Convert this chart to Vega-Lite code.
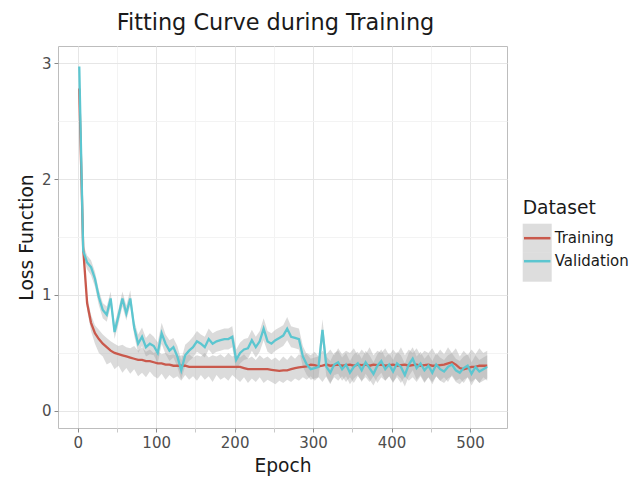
{
  "$schema": "https://vega.github.io/schema/vega-lite/v6.json",
  "width": 449,
  "height": 382,
  "autosize": {"type": "none"},
  "padding": {"left": 58, "top": 46, "right": 128, "bottom": 52},
  "background": "white",
  "title": {"text": "Fitting Curve during Training", "anchor": "middle", "frame": "group", "baseline": "alphabetic", "offset": -6, "dx": -7, "font": "DejaVu Sans", "fontSize": 22.4, "fontWeight": "normal", "color": "#1a1a1a"},
  "data": {"values": [
    {"epoch":2,"dataset":"Training","loss":2.78,"lower":2.74,"upper":2.82},
    {"epoch":7,"dataset":"Training","loss":1.40,"lower":1.34,"upper":1.46},
    {"epoch":12,"dataset":"Training","loss":0.93,"lower":0.87,"upper":0.99},
    {"epoch":17,"dataset":"Training","loss":0.76,"lower":0.69,"upper":0.83},
    {"epoch":22,"dataset":"Training","loss":0.67,"lower":0.58,"upper":0.74},
    {"epoch":27,"dataset":"Training","loss":0.62,"lower":0.50,"upper":0.70},
    {"epoch":32,"dataset":"Training","loss":0.58,"lower":0.47,"upper":0.66},
    {"epoch":37,"dataset":"Training","loss":0.55,"lower":0.40,"upper":0.63},
    {"epoch":42,"dataset":"Training","loss":0.52,"lower":0.42,"upper":0.60},
    {"epoch":47,"dataset":"Training","loss":0.50,"lower":0.36,"upper":0.58},
    {"epoch":52,"dataset":"Training","loss":0.49,"lower":0.39,"upper":0.56},
    {"epoch":57,"dataset":"Training","loss":0.48,"lower":0.33,"upper":0.57},
    {"epoch":62,"dataset":"Training","loss":0.47,"lower":0.37,"upper":0.55},
    {"epoch":67,"dataset":"Training","loss":0.46,"lower":0.32,"upper":0.54},
    {"epoch":72,"dataset":"Training","loss":0.45,"lower":0.36,"upper":0.56},
    {"epoch":77,"dataset":"Training","loss":0.44,"lower":0.30,"upper":0.52},
    {"epoch":82,"dataset":"Training","loss":0.44,"lower":0.33,"upper":0.55},
    {"epoch":87,"dataset":"Training","loss":0.43,"lower":0.29,"upper":0.51},
    {"epoch":92,"dataset":"Training","loss":0.43,"lower":0.34,"upper":0.53},
    {"epoch":97,"dataset":"Training","loss":0.42,"lower":0.30,"upper":0.50},
    {"epoch":102,"dataset":"Training","loss":0.41,"lower":0.28,"upper":0.52},
    {"epoch":107,"dataset":"Training","loss":0.41,"lower":0.32,"upper":0.49},
    {"epoch":112,"dataset":"Training","loss":0.40,"lower":0.27,"upper":0.50},
    {"epoch":117,"dataset":"Training","loss":0.40,"lower":0.31,"upper":0.48},
    {"epoch":122,"dataset":"Training","loss":0.39,"lower":0.28,"upper":0.49},
    {"epoch":127,"dataset":"Training","loss":0.39,"lower":0.30,"upper":0.47},
    {"epoch":132,"dataset":"Training","loss":0.39,"lower":0.26,"upper":0.48},
    {"epoch":137,"dataset":"Training","loss":0.39,"lower":0.31,"upper":0.47},
    {"epoch":142,"dataset":"Training","loss":0.38,"lower":0.27,"upper":0.49},
    {"epoch":147,"dataset":"Training","loss":0.38,"lower":0.30,"upper":0.46},
    {"epoch":152,"dataset":"Training","loss":0.38,"lower":0.26,"upper":0.48},
    {"epoch":157,"dataset":"Training","loss":0.38,"lower":0.31,"upper":0.47},
    {"epoch":162,"dataset":"Training","loss":0.38,"lower":0.27,"upper":0.50},
    {"epoch":167,"dataset":"Training","loss":0.38,"lower":0.30,"upper":0.46},
    {"epoch":172,"dataset":"Training","loss":0.38,"lower":0.25,"upper":0.48},
    {"epoch":177,"dataset":"Training","loss":0.38,"lower":0.31,"upper":0.47},
    {"epoch":182,"dataset":"Training","loss":0.38,"lower":0.27,"upper":0.49},
    {"epoch":187,"dataset":"Training","loss":0.38,"lower":0.29,"upper":0.46},
    {"epoch":192,"dataset":"Training","loss":0.38,"lower":0.26,"upper":0.50},
    {"epoch":197,"dataset":"Training","loss":0.38,"lower":0.31,"upper":0.47},
    {"epoch":202,"dataset":"Training","loss":0.38,"lower":0.28,"upper":0.48},
    {"epoch":207,"dataset":"Training","loss":0.38,"lower":0.25,"upper":0.46},
    {"epoch":212,"dataset":"Training","loss":0.37,"lower":0.29,"upper":0.49},
    {"epoch":217,"dataset":"Training","loss":0.36,"lower":0.24,"upper":0.45},
    {"epoch":222,"dataset":"Training","loss":0.36,"lower":0.28,"upper":0.47},
    {"epoch":227,"dataset":"Training","loss":0.36,"lower":0.25,"upper":0.44},
    {"epoch":232,"dataset":"Training","loss":0.36,"lower":0.29,"upper":0.48},
    {"epoch":237,"dataset":"Training","loss":0.36,"lower":0.24,"upper":0.45},
    {"epoch":242,"dataset":"Training","loss":0.36,"lower":0.27,"upper":0.47},
    {"epoch":247,"dataset":"Training","loss":0.355,"lower":0.25,"upper":0.44},
    {"epoch":252,"dataset":"Training","loss":0.35,"lower":0.23,"upper":0.46},
    {"epoch":257,"dataset":"Training","loss":0.345,"lower":0.26,"upper":0.43},
    {"epoch":262,"dataset":"Training","loss":0.35,"lower":0.24,"upper":0.47},
    {"epoch":267,"dataset":"Training","loss":0.35,"lower":0.27,"upper":0.44},
    {"epoch":272,"dataset":"Training","loss":0.36,"lower":0.25,"upper":0.48},
    {"epoch":277,"dataset":"Training","loss":0.37,"lower":0.28,"upper":0.45},
    {"epoch":282,"dataset":"Training","loss":0.375,"lower":0.26,"upper":0.49},
    {"epoch":287,"dataset":"Training","loss":0.38,"lower":0.29,"upper":0.47},
    {"epoch":292,"dataset":"Training","loss":0.385,"lower":0.27,"upper":0.50},
    {"epoch":297,"dataset":"Training","loss":0.40,"lower":0.30,"upper":0.48},
    {"epoch":302,"dataset":"Training","loss":0.395,"lower":0.26,"upper":0.51},
    {"epoch":307,"dataset":"Training","loss":0.385,"lower":0.29,"upper":0.47},
    {"epoch":312,"dataset":"Training","loss":0.39,"lower":0.25,"upper":0.52},
    {"epoch":317,"dataset":"Training","loss":0.40,"lower":0.30,"upper":0.49},
    {"epoch":322,"dataset":"Training","loss":0.39,"lower":0.24,"upper":0.53},
    {"epoch":327,"dataset":"Training","loss":0.395,"lower":0.29,"upper":0.48},
    {"epoch":332,"dataset":"Training","loss":0.40,"lower":0.26,"upper":0.54},
    {"epoch":337,"dataset":"Training","loss":0.39,"lower":0.30,"upper":0.49},
    {"epoch":342,"dataset":"Training","loss":0.395,"lower":0.25,"upper":0.52},
    {"epoch":347,"dataset":"Training","loss":0.40,"lower":0.29,"upper":0.50},
    {"epoch":352,"dataset":"Training","loss":0.39,"lower":0.24,"upper":0.54},
    {"epoch":357,"dataset":"Training","loss":0.40,"lower":0.30,"upper":0.48},
    {"epoch":362,"dataset":"Training","loss":0.395,"lower":0.26,"upper":0.53},
    {"epoch":367,"dataset":"Training","loss":0.40,"lower":0.29,"upper":0.49},
    {"epoch":372,"dataset":"Training","loss":0.39,"lower":0.25,"upper":0.55},
    {"epoch":377,"dataset":"Training","loss":0.40,"lower":0.30,"upper":0.48},
    {"epoch":382,"dataset":"Training","loss":0.395,"lower":0.24,"upper":0.52},
    {"epoch":387,"dataset":"Training","loss":0.40,"lower":0.29,"upper":0.50},
    {"epoch":392,"dataset":"Training","loss":0.39,"lower":0.26,"upper":0.54},
    {"epoch":397,"dataset":"Training","loss":0.395,"lower":0.30,"upper":0.48},
    {"epoch":402,"dataset":"Training","loss":0.40,"lower":0.25,"upper":0.53},
    {"epoch":407,"dataset":"Training","loss":0.39,"lower":0.29,"upper":0.49},
    {"epoch":412,"dataset":"Training","loss":0.395,"lower":0.24,"upper":0.55},
    {"epoch":417,"dataset":"Training","loss":0.40,"lower":0.30,"upper":0.48},
    {"epoch":422,"dataset":"Training","loss":0.39,"lower":0.26,"upper":0.53},
    {"epoch":427,"dataset":"Training","loss":0.395,"lower":0.29,"upper":0.50},
    {"epoch":432,"dataset":"Training","loss":0.40,"lower":0.25,"upper":0.54},
    {"epoch":437,"dataset":"Training","loss":0.39,"lower":0.30,"upper":0.48},
    {"epoch":442,"dataset":"Training","loss":0.395,"lower":0.24,"upper":0.52},
    {"epoch":447,"dataset":"Training","loss":0.40,"lower":0.29,"upper":0.50},
    {"epoch":452,"dataset":"Training","loss":0.39,"lower":0.25,"upper":0.54},
    {"epoch":457,"dataset":"Training","loss":0.39,"lower":0.30,"upper":0.48},
    {"epoch":462,"dataset":"Training","loss":0.395,"lower":0.26,"upper":0.53},
    {"epoch":467,"dataset":"Training","loss":0.40,"lower":0.29,"upper":0.49},
    {"epoch":472,"dataset":"Training","loss":0.41,"lower":0.25,"upper":0.55},
    {"epoch":477,"dataset":"Training","loss":0.42,"lower":0.31,"upper":0.50},
    {"epoch":482,"dataset":"Training","loss":0.40,"lower":0.26,"upper":0.54},
    {"epoch":487,"dataset":"Training","loss":0.37,"lower":0.28,"upper":0.47},
    {"epoch":492,"dataset":"Training","loss":0.36,"lower":0.24,"upper":0.52},
    {"epoch":497,"dataset":"Training","loss":0.37,"lower":0.29,"upper":0.48},
    {"epoch":502,"dataset":"Training","loss":0.38,"lower":0.25,"upper":0.53},
    {"epoch":507,"dataset":"Training","loss":0.38,"lower":0.28,"upper":0.49},
    {"epoch":512,"dataset":"Training","loss":0.39,"lower":0.24,"upper":0.54},
    {"epoch":517,"dataset":"Training","loss":0.39,"lower":0.29,"upper":0.50},
    {"epoch":522,"dataset":"Training","loss":0.39,"lower":0.26,"upper":0.52},
    {"epoch":2,"dataset":"Validation","loss":2.97,"lower":2.93,"upper":3.01},
    {"epoch":7,"dataset":"Validation","loss":1.38,"lower":1.32,"upper":1.44},
    {"epoch":12,"dataset":"Validation","loss":1.28,"lower":1.22,"upper":1.34},
    {"epoch":17,"dataset":"Validation","loss":1.24,"lower":1.17,"upper":1.30},
    {"epoch":22,"dataset":"Validation","loss":1.14,"lower":1.07,"upper":1.20},
    {"epoch":27,"dataset":"Validation","loss":0.98,"lower":0.91,"upper":1.04},
    {"epoch":32,"dataset":"Validation","loss":0.87,"lower":0.80,"upper":0.93},
    {"epoch":37,"dataset":"Validation","loss":0.83,"lower":0.77,"upper":0.90},
    {"epoch":42,"dataset":"Validation","loss":0.97,"lower":0.90,"upper":1.03},
    {"epoch":47,"dataset":"Validation","loss":0.68,"lower":0.62,"upper":0.75},
    {"epoch":52,"dataset":"Validation","loss":0.82,"lower":0.75,"upper":0.88},
    {"epoch":57,"dataset":"Validation","loss":0.97,"lower":0.90,"upper":1.03},
    {"epoch":62,"dataset":"Validation","loss":0.84,"lower":0.78,"upper":0.91},
    {"epoch":67,"dataset":"Validation","loss":0.97,"lower":0.91,"upper":1.04},
    {"epoch":72,"dataset":"Validation","loss":0.72,"lower":0.65,"upper":0.78},
    {"epoch":77,"dataset":"Validation","loss":0.58,"lower":0.50,"upper":0.66},
    {"epoch":82,"dataset":"Validation","loss":0.64,"lower":0.56,"upper":0.72},
    {"epoch":87,"dataset":"Validation","loss":0.55,"lower":0.47,"upper":0.63},
    {"epoch":92,"dataset":"Validation","loss":0.58,"lower":0.49,"upper":0.67},
    {"epoch":97,"dataset":"Validation","loss":0.56,"lower":0.48,"upper":0.64},
    {"epoch":102,"dataset":"Validation","loss":0.50,"lower":0.41,"upper":0.59},
    {"epoch":107,"dataset":"Validation","loss":0.67,"lower":0.58,"upper":0.76},
    {"epoch":112,"dataset":"Validation","loss":0.58,"lower":0.49,"upper":0.66},
    {"epoch":117,"dataset":"Validation","loss":0.52,"lower":0.43,"upper":0.61},
    {"epoch":122,"dataset":"Validation","loss":0.55,"lower":0.46,"upper":0.63},
    {"epoch":127,"dataset":"Validation","loss":0.47,"lower":0.38,"upper":0.56},
    {"epoch":132,"dataset":"Validation","loss":0.35,"lower":0.27,"upper":0.44},
    {"epoch":137,"dataset":"Validation","loss":0.48,"lower":0.39,"upper":0.57},
    {"epoch":142,"dataset":"Validation","loss":0.52,"lower":0.43,"upper":0.60},
    {"epoch":147,"dataset":"Validation","loss":0.55,"lower":0.46,"upper":0.64},
    {"epoch":152,"dataset":"Validation","loss":0.60,"lower":0.51,"upper":0.69},
    {"epoch":157,"dataset":"Validation","loss":0.58,"lower":0.49,"upper":0.66},
    {"epoch":162,"dataset":"Validation","loss":0.55,"lower":0.46,"upper":0.64},
    {"epoch":167,"dataset":"Validation","loss":0.62,"lower":0.53,"upper":0.71},
    {"epoch":172,"dataset":"Validation","loss":0.58,"lower":0.49,"upper":0.67},
    {"epoch":177,"dataset":"Validation","loss":0.60,"lower":0.51,"upper":0.69},
    {"epoch":182,"dataset":"Validation","loss":0.61,"lower":0.52,"upper":0.70},
    {"epoch":187,"dataset":"Validation","loss":0.62,"lower":0.53,"upper":0.71},
    {"epoch":192,"dataset":"Validation","loss":0.62,"lower":0.53,"upper":0.71},
    {"epoch":197,"dataset":"Validation","loss":0.64,"lower":0.55,"upper":0.73},
    {"epoch":202,"dataset":"Validation","loss":0.44,"lower":0.35,"upper":0.53},
    {"epoch":207,"dataset":"Validation","loss":0.50,"lower":0.41,"upper":0.59},
    {"epoch":212,"dataset":"Validation","loss":0.53,"lower":0.44,"upper":0.62},
    {"epoch":217,"dataset":"Validation","loss":0.54,"lower":0.45,"upper":0.63},
    {"epoch":222,"dataset":"Validation","loss":0.61,"lower":0.52,"upper":0.70},
    {"epoch":227,"dataset":"Validation","loss":0.55,"lower":0.46,"upper":0.64},
    {"epoch":232,"dataset":"Validation","loss":0.60,"lower":0.51,"upper":0.69},
    {"epoch":237,"dataset":"Validation","loss":0.71,"lower":0.61,"upper":0.80},
    {"epoch":242,"dataset":"Validation","loss":0.60,"lower":0.51,"upper":0.69},
    {"epoch":247,"dataset":"Validation","loss":0.58,"lower":0.49,"upper":0.67},
    {"epoch":252,"dataset":"Validation","loss":0.61,"lower":0.52,"upper":0.70},
    {"epoch":257,"dataset":"Validation","loss":0.63,"lower":0.54,"upper":0.72},
    {"epoch":262,"dataset":"Validation","loss":0.65,"lower":0.56,"upper":0.74},
    {"epoch":267,"dataset":"Validation","loss":0.71,"lower":0.61,"upper":0.81},
    {"epoch":272,"dataset":"Validation","loss":0.64,"lower":0.55,"upper":0.73},
    {"epoch":277,"dataset":"Validation","loss":0.63,"lower":0.54,"upper":0.72},
    {"epoch":282,"dataset":"Validation","loss":0.62,"lower":0.53,"upper":0.71},
    {"epoch":287,"dataset":"Validation","loss":0.47,"lower":0.38,"upper":0.56},
    {"epoch":292,"dataset":"Validation","loss":0.40,"lower":0.31,"upper":0.49},
    {"epoch":297,"dataset":"Validation","loss":0.36,"lower":0.27,"upper":0.45},
    {"epoch":302,"dataset":"Validation","loss":0.37,"lower":0.28,"upper":0.46},
    {"epoch":307,"dataset":"Validation","loss":0.38,"lower":0.29,"upper":0.47},
    {"epoch":312,"dataset":"Validation","loss":0.70,"lower":0.60,"upper":0.79},
    {"epoch":317,"dataset":"Validation","loss":0.38,"lower":0.29,"upper":0.47},
    {"epoch":322,"dataset":"Validation","loss":0.33,"lower":0.23,"upper":0.43},
    {"epoch":327,"dataset":"Validation","loss":0.40,"lower":0.31,"upper":0.50},
    {"epoch":332,"dataset":"Validation","loss":0.42,"lower":0.32,"upper":0.52},
    {"epoch":337,"dataset":"Validation","loss":0.36,"lower":0.26,"upper":0.46},
    {"epoch":342,"dataset":"Validation","loss":0.40,"lower":0.30,"upper":0.50},
    {"epoch":347,"dataset":"Validation","loss":0.33,"lower":0.23,"upper":0.43},
    {"epoch":352,"dataset":"Validation","loss":0.38,"lower":0.28,"upper":0.49},
    {"epoch":357,"dataset":"Validation","loss":0.41,"lower":0.31,"upper":0.51},
    {"epoch":362,"dataset":"Validation","loss":0.35,"lower":0.25,"upper":0.45},
    {"epoch":367,"dataset":"Validation","loss":0.42,"lower":0.32,"upper":0.52},
    {"epoch":372,"dataset":"Validation","loss":0.37,"lower":0.27,"upper":0.48},
    {"epoch":377,"dataset":"Validation","loss":0.32,"lower":0.22,"upper":0.42},
    {"epoch":382,"dataset":"Validation","loss":0.39,"lower":0.29,"upper":0.49},
    {"epoch":387,"dataset":"Validation","loss":0.43,"lower":0.33,"upper":0.53},
    {"epoch":392,"dataset":"Validation","loss":0.36,"lower":0.26,"upper":0.46},
    {"epoch":397,"dataset":"Validation","loss":0.40,"lower":0.30,"upper":0.50},
    {"epoch":402,"dataset":"Validation","loss":0.34,"lower":0.24,"upper":0.44},
    {"epoch":407,"dataset":"Validation","loss":0.41,"lower":0.31,"upper":0.51},
    {"epoch":412,"dataset":"Validation","loss":0.38,"lower":0.28,"upper":0.48},
    {"epoch":417,"dataset":"Validation","loss":0.31,"lower":0.21,"upper":0.41},
    {"epoch":422,"dataset":"Validation","loss":0.40,"lower":0.30,"upper":0.50},
    {"epoch":427,"dataset":"Validation","loss":0.45,"lower":0.35,"upper":0.55},
    {"epoch":432,"dataset":"Validation","loss":0.37,"lower":0.27,"upper":0.47},
    {"epoch":437,"dataset":"Validation","loss":0.41,"lower":0.31,"upper":0.51},
    {"epoch":442,"dataset":"Validation","loss":0.35,"lower":0.25,"upper":0.45},
    {"epoch":447,"dataset":"Validation","loss":0.39,"lower":0.29,"upper":0.49},
    {"epoch":452,"dataset":"Validation","loss":0.33,"lower":0.23,"upper":0.43},
    {"epoch":457,"dataset":"Validation","loss":0.40,"lower":0.30,"upper":0.50},
    {"epoch":462,"dataset":"Validation","loss":0.36,"lower":0.26,"upper":0.46},
    {"epoch":467,"dataset":"Validation","loss":0.34,"lower":0.24,"upper":0.44},
    {"epoch":472,"dataset":"Validation","loss":0.38,"lower":0.28,"upper":0.48},
    {"epoch":477,"dataset":"Validation","loss":0.40,"lower":0.30,"upper":0.50},
    {"epoch":482,"dataset":"Validation","loss":0.35,"lower":0.25,"upper":0.45},
    {"epoch":487,"dataset":"Validation","loss":0.33,"lower":0.23,"upper":0.43},
    {"epoch":492,"dataset":"Validation","loss":0.37,"lower":0.27,"upper":0.47},
    {"epoch":497,"dataset":"Validation","loss":0.39,"lower":0.29,"upper":0.49},
    {"epoch":502,"dataset":"Validation","loss":0.32,"lower":0.22,"upper":0.42},
    {"epoch":507,"dataset":"Validation","loss":0.38,"lower":0.28,"upper":0.48},
    {"epoch":512,"dataset":"Validation","loss":0.34,"lower":0.24,"upper":0.44},
    {"epoch":517,"dataset":"Validation","loss":0.36,"lower":0.26,"upper":0.46},
    {"epoch":522,"dataset":"Validation","loss":0.38,"lower":0.28,"upper":0.48}
  ]},
  "encoding": {
    "x": {"field": "epoch", "type": "quantitative", "title": "Epoch",
      "scale": {"domain": [-25.1, 547.2], "nice": false, "zero": false},
      "axis": {"values": [0,50,100,150,200,250,300,350,400,450,500],
        "labelExpr": "datum.value % 100 == 0 ? format(datum.value, 'd') : ''",
        "gridColor": {"condition": {"test": "datum.value % 100 == 0", "value": "#e6e6e6"}, "value": "#f3f3f3"},
        "tickColor": {"condition": {"test": "datum.value % 100 == 0", "value": "#8a8a8a"}, "value": "#c8c8c8"}}},
    "y": {"field": "loss", "type": "quantitative", "title": "Loss Function",
      "scale": {"domain": [-0.147, 3.147], "nice": false, "zero": false},
      "axis": {"values": [0,0.5,1,1.5,2,2.5,3],
        "labelExpr": "datum.value % 1 == 0 ? format(datum.value, 'd') : ''",
        "gridColor": {"condition": {"test": "datum.value % 1 == 0", "value": "#e6e6e6"}, "value": "#f3f3f3"},
        "tickColor": {"condition": {"test": "datum.value % 1 == 0", "value": "#8a8a8a"}, "value": "rgba(0,0,0,0)"}}}
  },
  "layer": [
    {"mark": {"type": "area", "opacity": 0.4, "clip": true},
     "encoding": {"y": {"field": "lower", "type": "quantitative"}, "y2": {"field": "upper"},
       "fill": {"field": "dataset", "type": "nominal", "title": "Dataset",
         "scale": {"domain": ["Training", "Validation"], "range": ["#a6a6a6", "#a6a6a6"]},
         "legend": {"orient": "none", "legendX": 464.7, "legendY": 153, "zindex": 1, "title": " ",
           "symbolType": "square", "symbolSize": 840, "symbolStrokeWidth": 0, "symbolOpacity": 0.38,
           "rowPadding": 0, "labelOffset": 3, "labelExpr": "''"}}}},
    {"mark": {"type": "line", "strokeWidth": 2.3, "clip": true},
     "encoding": {"stroke": {"field": "dataset", "type": "nominal", "title": "Dataset",
       "scale": {"range": ["#c9594c", "#5cc6d0"]},
       "legend": {"orient": "none", "legendX": 464.7, "legendY": 153, "zindex": 2,
         "symbolType": "stroke", "symbolSize": 700, "symbolStrokeWidth": 2.5,
         "rowPadding": 0, "labelOffset": 3}}}}
  ],
  "config": {
    "view": {"stroke": "#bdbdbd", "strokeWidth": 1},
    "font": "DejaVu Sans",
    "axis": {"domain": false, "tickSize": 4, "labelFont": "DejaVu Sans", "labelFontSize": 15, "labelColor": "#4d4d4d", "labelPadding": 3,
      "titleFont": "DejaVu Sans", "titleFontSize": 18.7, "titleFontWeight": "normal", "titleColor": "#1a1a1a", "gridWidth": 1},
    "axisX": {"titlePadding": 6},
    "axisY": {"titlePadding": 5},
    "legend": {"titleFont": "DejaVu Sans", "titleFontSize": 18.7, "titleFontWeight": "normal", "titleColor": "#1a1a1a", "titlePadding": 6,
      "labelFont": "DejaVu Sans", "labelFontSize": 15, "labelColor": "#1a1a1a"}
  }
}
